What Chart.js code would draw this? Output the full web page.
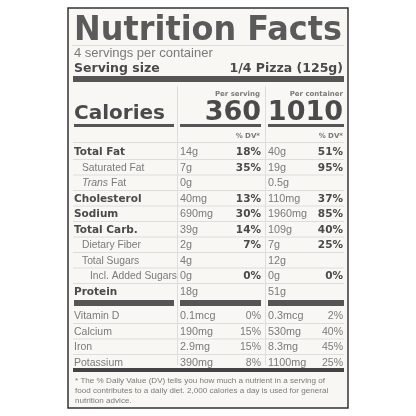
<!DOCTYPE html>
<html><head><meta charset="utf-8">
<script src="https://cdn.jsdelivr.net/npm/chart.js@4"></script>
<style>html,body{margin:0;padding:0;background:#fff}#c{width:416px;height:416px}</style>
</head><body><div id="c"><canvas id="cv"></canvas></div>
<script>
// label data
const servings = '4 servings per container';
const servingSize = '1/4 Pizza (125g)';
const calories = ['360', '1010'];
const rowLabels = ['Total Fat','Saturated Fat','Trans Fat','Cholesterol','Sodium','Total Carb.','Dietary Fiber','Total Sugars','Incl. Added Sugars','Protein'];
const rowIndent = [0,1,1,0,0,0,1,1,2,0];
const rowBold = [1,0,0,1,1,1,0,0,0,1];
const servAmt = ['14g','7g','0g','40mg','690mg','39g','2g','4g','0g','18g'];
const servDv = ['18%','35%','','13%','30%','14%','7%','','0%',''];
const contAmt = ['40g','19g','0.5g','110mg','1960mg','109g','7g','12g','0g','51g'];
const contDv = ['51%','95%','','37%','85%','40%','25%','','0%',''];
const vitLabels = ['Vitamin D','Calcium','Iron','Potassium'];
const vitServAmt = ['0.1mcg','190mg','2.9mg','390mg'];
const vitServDv = ['0%','15%','15%','8%'];
const vitContAmt = ['0.3mcg','530mg','8.3mg','1100mg'];
const vitContDv = ['2%','40%','45%','25%'];
const footnote = ['* The % Daily Value (DV) tells you how much a nutrient in a serving of',
  'food contributes to a daily diet. 2,000 calories a day is used for general',
  'nutrition advice.'];

const F = 'Liberation Sans, Arial, sans-serif';
const FB = 'DejaVu Sans, sans-serif';
const DARK = '#4a4a4a', LIGHT = '#7a7a7a', BAR = '#555';

const labelPlugin = {
  id: 'label',
  afterDraw(chart) {
    const c = chart.ctx, X = v => chart.scales.x.getPixelForValue(v), Y = v => chart.scales.y.getPixelForValue(v);
    function txt(s, x, y, size, bold, color, align) {
      c.font = bold ? 'bold ' + size + 'px ' + FB : size + 'px ' + F;
      c.fillStyle = color; c.textAlign = align || 'left'; c.textBaseline = 'alphabetic';
      c.fillText(s, X(x), Y(y));
    }
    function bar(x1, x2, y1, y2, col) { c.fillStyle = col || BAR; c.fillRect(X(x1), Y(y1), X(x2) - X(x1), Y(y2) - Y(y1)); }
    function line(x1, x2, y, col) { c.strokeStyle = col || '#ddd'; c.lineWidth = 1; c.beginPath(); c.moveTo(X(x1), Y(y) + .5); c.lineTo(X(x2), Y(y) + .5); c.stroke(); }
    c.save();
    c.fillStyle = '#f8f7f4'; c.fillRect(X(68), Y(8), X(348) - X(68), Y(408) - Y(8));
    c.strokeStyle = '#333'; c.lineWidth = 1.5; c.strokeRect(X(68), Y(8), X(348) - X(68), Y(408) - Y(8));
    // title
    c.font = 'bold 34px ' + FB;
    const w = c.measureText('Nutrition Facts').width;
    c.save(); c.translate(X(74), Y(40)); c.scale(268 / w, 1.0);
    c.fillStyle = '#5a5a5a'; c.textAlign = 'left'; c.fillText('Nutrition Facts', 0, 0); c.restore();
    line(72, 344, 45);
    txt(servings, 74, 57, 13, 0, LIGHT);
    txt('Serving size', 74, 72, 12.5, 1, DARK);
    txt(servingSize, 343, 72, 12.5, 1, DARK, 'right');
    bar(73, 344, 76, 82);
    // column separators
    c.strokeStyle = '#ddd'; c.lineWidth = 1;
    [177, 265].forEach(v => { c.beginPath(); c.moveTo(X(v) + .5, Y(86)); c.lineTo(X(v) + .5, Y(365)); c.stroke(); });
    txt('Per serving', 260, 96, 7, 1, LIGHT, 'right');
    txt('Per container', 343, 96, 7, 1, LIGHT, 'right');
    txt('Calories', 74, 119, 20, 1, DARK);
    txt(calories[0], 261, 120, 27, 1, DARK, 'right');
    txt(calories[1], 343, 120, 27, 1, DARK, 'right');
    bar(74, 174, 124, 127); bar(180, 261, 124, 127); bar(268, 344, 124, 127);
    txt('% DV*', 260, 138, 7, 1, LIGHT, 'right');
    txt('% DV*', 343, 138, 7, 1, LIGHT, 'right');
    line(73, 344, 142);
    rowLabels.forEach((l, i) => {
      const y = 155 + i * 15.5;
      if (l === 'Trans Fat') {
        c.font = 'italic 10.5px ' + F; c.fillStyle = LIGHT; c.textAlign = 'left';
        c.fillText('Trans', X(82), Y(y)); const tw = c.measureText('Trans ').width;
        c.font = '10.5px ' + F; c.fillText('Fat', X(82) + tw, Y(y));
      } else txt(l, 74 + rowIndent[i] * 8, y, rowBold[i] ? 10.5 : 10.3, rowBold[i], rowBold[i] ? DARK : LIGHT);
      txt(servAmt[i], 180, y, 10.8, 0, LIGHT);
      txt(servDv[i], 261, y, 10.5, 1, DARK, 'right');
      txt(contAmt[i], 268, y, 10.8, 0, LIGHT);
      txt(contDv[i], 343, y, 10.5, 1, DARK, 'right');
      if (i < rowLabels.length - 1) line(73, 344, y + 4);
    });
    bar(74, 174, 300, 306); bar(180, 261, 300, 306); bar(268, 344, 300, 306);
    vitLabels.forEach((l, i) => {
      const y = 319 + i * 15.5;
      txt(l, 74, y, 10.5, 0, LIGHT);
      txt(vitServAmt[i], 180, y, 10.8, 0, LIGHT);
      txt(vitServDv[i], 261, y, 10.5, 0, LIGHT, 'right');
      txt(vitContAmt[i], 268, y, 10.8, 0, LIGHT);
      txt(vitContDv[i], 343, y, 10.5, 0, LIGHT, 'right');
      if (i < vitLabels.length - 1) line(73, 344, y + 4);
    });
    bar(73, 344, 368, 372, '#444');
    footnote.forEach((s, i) => txt(s, 75, 383 + i * 10, 8.1, 0, LIGHT));
    c.restore();
  }
};

new Chart(document.getElementById('cv'), {
  type: 'scatter',
  data: { datasets: [{ data: [] }] },
  options: {
    responsive: true, maintainAspectRatio: false, animation: false,
    layout: { padding: 0 },
    plugins: { legend: { display: false }, tooltip: { enabled: false } },
    scales: {
      x: { type: 'linear', min: 0, max: 416, display: false },
      y: { type: 'linear', min: 0, max: 416, reverse: true, display: false }
    }
  },
  plugins: [labelPlugin]
});
</script></body></html>
